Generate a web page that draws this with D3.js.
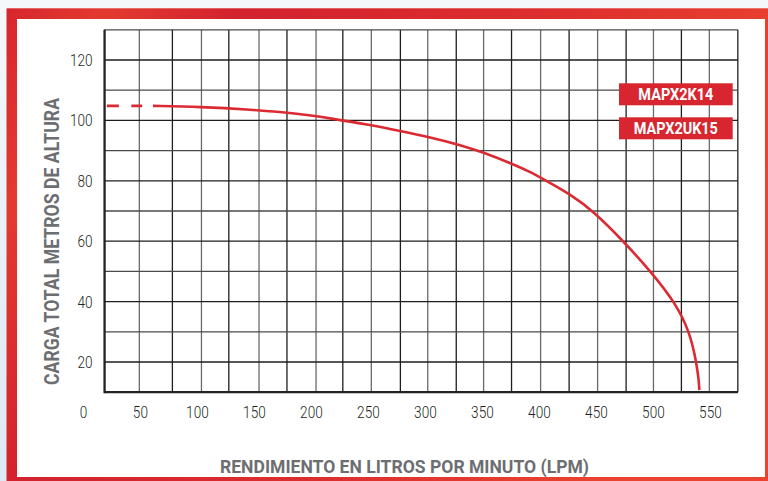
<!DOCTYPE html>
<html>
<head>
<meta charset="utf-8">
<script src="https://cdn.jsdelivr.net/npm/d3@7"></script>
<style>
  html, body { margin: 0; padding: 0; background: #f4f7fa; }
  svg { display: block; }
</style>
</head>
<body>
<svg id="chart" width="768" height="481"></svg>
<script>
// ---- data ----
const xTicks = [0, 50, 100, 150, 200, 250, 300, 350, 400, 450, 500, 550];
const yTicks = [20, 40, 60, 80, 100, 120];
const xGrid = [19, 49.5, 78.5, 104, 128, 154.5, 179, 204.5, 228, 253, 278.5, 302.5, 327.5, 351.5, 376, 401.5, 426.5, 451.5, 476.5, 500.5, 525, 549.5, 574.5];
const yGrid = [10, 20, 30, 40, 50, 60, 70, 80, 90, 100, 110, 120, 130];
const curveFlow = [61.5, 102.7, 146.6, 190.4, 216.7, 251.8, 278.2, 304.5, 330.8, 352.7, 374.6, 392.2, 405.4, 427.3, 448.3, 474.6, 498.3, 519.4, 532.5, 538.2, 540.4, 540.7];
const curveHead = [104.8, 104.5, 103.6, 102.2, 100.7, 98.5, 96.5, 94.4, 91.9, 89.2, 85.9, 83.0, 80.2, 75.6, 69.8, 59.8, 49.9, 39.8, 29.8, 19.8, 13.5, 10.7];
const dashFlow = [21, 52];
const dashHead = [104.8, 104.8];
const legendLabels = ["MAPX2K14", "MAPX2UK15"];
const xTitle = "RENDIMIENTO EN LITROS POR MINUTO (LPM)";
const yTitle = "CARGA TOTAL METROS DE ALTURA";

const svg = d3.select("#chart");
const W = 768, H = 481;

// ---- frame ----
const defs = svg.append("defs");
const bg = defs.append("linearGradient").attr("id", "bgGrad").attr("x1", 0).attr("y1", 0).attr("x2", 0).attr("y2", 1);
bg.append("stop").attr("offset", "0%").attr("stop-color", "#f5f8fb");
bg.append("stop").attr("offset", "100%").attr("stop-color", "#dde9f5");
const rg = defs.append("linearGradient").attr("id", "redGrad").attr("x1", 0).attr("y1", 0).attr("x2", 1).attr("y2", 0.3);
rg.append("stop").attr("offset", "0%").attr("stop-color", "#d6262e");
rg.append("stop").attr("offset", "12%").attr("stop-color", "#e33a30");
rg.append("stop").attr("offset", "28%").attr("stop-color", "#d2222d");
rg.append("stop").attr("offset", "65%").attr("stop-color", "#dd2e2e");
rg.append("stop").attr("offset", "100%").attr("stop-color", "#ea4430");

svg.append("rect").attr("x", 0).attr("y", 0).attr("width", W).attr("height", H).attr("fill", "url(#bgGrad)");
svg.append("rect").attr("x", 6.5).attr("y", 8.3).attr("width", W).attr("height", H).attr("fill", "url(#redGrad)");
svg.append("rect").attr("x", 17).attr("y", 19).attr("width", 748).attr("height", 458).attr("fill", "#ffffff");

// ---- scales ----
const x = d3.scaleLinear().domain([0, 550]).range([82.9, 82.9 + 550 * 1.14]);
const y = d3.scaleLinear().domain([0, 120]).range([422.4, 422.4 - 120 * 3.02]);

const gx0 = x(xGrid[0]), gx1 = x(xGrid[xGrid.length - 1]);
const gy0 = y(yGrid[0]), gy1 = y(yGrid[yGrid.length - 1]);

// ---- grid ----
const grid = svg.append("g");
grid.selectAll("line.v").data(xGrid).join("line")
  .attr("x1", d => x(d)).attr("x2", d => x(d))
  .attr("y1", gy1).attr("y2", gy0)
  .attr("stroke", (d, i) => i % 2 === 0 ? "#1e1e1e" : "#6a6a6a")
  .attr("stroke-width", 1.3);
grid.selectAll("line.h").data(yGrid).join("line")
  .attr("x1", gx0).attr("x2", gx1)
  .attr("y1", d => y(d)).attr("y2", d => y(d))
  .attr("stroke", (d, i) => i % 2 === 0 ? "#4a4a4a" : "#1e1e1e")
  .attr("stroke-width", 1.3);
// axis edges
grid.append("line").attr("x1", gx0).attr("x2", gx0).attr("y1", gy1).attr("y2", gy0 + 1)
  .attr("stroke", "#222").attr("stroke-width", 2.2);
grid.append("line").attr("x1", gx0).attr("x2", gx1).attr("y1", gy0).attr("y2", gy0)
  .attr("stroke", "#222").attr("stroke-width", 2.2);

// ---- axes labels (through d3 axes) ----
function squeeze(sel, f) {
  sel.each(function () {
    const n = this.getComputedTextLength();
    d3.select(this).attr("textLength", n * f).attr("lengthAdjust", "spacingAndGlyphs");
  });
}
const xAxis = svg.append("g").attr("transform", `translate(0,${gy0})`)
  .call(d3.axisBottom(x).tickValues(xTicks).tickSize(0).tickPadding(14));
xAxis.select(".domain").remove();
xAxis.selectAll("text").attr("font-family", "Roboto, sans-serif").attr("font-weight", 300)
  .attr("font-size", 17).attr("fill", "#231f20").attr("dy", "0.71em")
  .attr("y", 14);
squeeze(xAxis.selectAll("text"), 0.8);

const yAxis = svg.append("g").attr("transform", `translate(${gx0},0)`)
  .call(d3.axisLeft(y).tickValues(yTicks).tickSize(0).tickPadding(12));
yAxis.select(".domain").remove();
yAxis.selectAll("text").attr("font-family", "Roboto, sans-serif").attr("font-weight", 300)
  .attr("font-size", 17).attr("fill", "#231f20");
squeeze(yAxis.selectAll("text"), 0.8);

// ---- curves ----
const pts = curveFlow.map((f, i) => [f, curveHead[i]]);
const line = d3.line().x(d => x(d[0])).y(d => y(d[1])).curve(d3.curveBasis);
svg.append("path").attr("d", line(pts)).attr("fill", "none")
  .attr("stroke", "#dc2a32").attr("stroke-width", 2.6);
const dpts = dashFlow.map((f, i) => [f, dashHead[i]]);
svg.append("path").attr("d", d3.line().x(d => x(d[0])).y(d => y(d[1]))(dpts)).attr("fill", "none")
  .attr("stroke", "#dc2a32").attr("stroke-width", 2.6).attr("stroke-dasharray", "12,12.5");

// ---- legend ----
const leg = svg.append("g");
legendLabels.forEach((t, i) => {
  const g = leg.append("g").attr("transform", `translate(619,${83.3 + i * 34})`);
  g.append("rect").attr("width", 113.7).attr("height", 22).attr("fill", "#d7262f");
  const tx = g.append("text").attr("x", 56.85).attr("y", 11).attr("dy", "0.36em")
    .attr("text-anchor", "middle").attr("font-family", "Roboto, sans-serif")
    .attr("font-weight", 700).attr("font-size", 16).attr("fill", "#ffffff").text(t);
  tx.attr("textLength", i === 0 ? 75 : 84).attr("lengthAdjust", "spacingAndGlyphs");
});

// ---- titles ----
svg.append("text").attr("x", 404.5).attr("y", 472.5).attr("text-anchor", "middle")
  .attr("font-family", "Roboto, sans-serif").attr("font-weight", 700).attr("font-size", 19)
  .attr("fill", "#6d6e71").attr("textLength", 369).attr("lengthAdjust", "spacingAndGlyphs")
  .text(xTitle);
svg.append("text").attr("transform", `translate(59,241.5) rotate(-90)`).attr("text-anchor", "middle")
  .attr("font-family", "Roboto, sans-serif").attr("font-weight", 700).attr("font-size", 21)
  .attr("fill", "#6d6e71").attr("textLength", 287).attr("lengthAdjust", "spacingAndGlyphs")
  .text(yTitle);
</script>
</body>
</html>
